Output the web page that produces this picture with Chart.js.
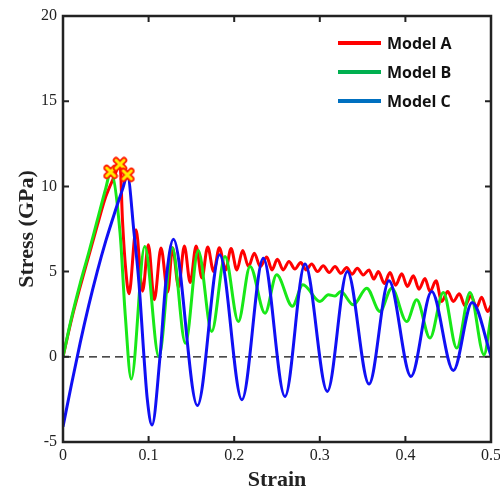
<!DOCTYPE html>
<html>
<head>
<meta charset="utf-8">
<script src="https://cdn.jsdelivr.net/npm/chart.js@4.4.1/dist/chart.umd.min.js"></script>
<style>
  html, body { margin: 0; padding: 0; background: #fff; }
  canvas { display: block; }
</style>
</head>
<body>
<canvas id="stressChart" width="500" height="492"></canvas>
<script>
const seriesNames = ['Model A', 'Model B', 'Model C'];

// Model A
const strainA = [0, 0.01, 0.02, 0.03, 0.04, 0.05, 0.06, 0.0666, 0.0695, 0.0735, 0.0771, 0.0853, 0.093, 0.0997,
  0.1067, 0.1145, 0.1223, 0.128, 0.135, 0.1418, 0.1486, 0.1555, 0.1623, 0.169, 0.176, 0.1826, 0.19, 0.1963,
  0.2031, 0.2099, 0.2167, 0.2235, 0.2304, 0.238, 0.2442, 0.2504, 0.2572, 0.264, 0.2709, 0.2777, 0.2841, 0.2905,
  0.2973, 0.304, 0.311, 0.3178, 0.3246, 0.3314, 0.3376, 0.3438, 0.3507, 0.3575, 0.363, 0.3684, 0.3754, 0.382,
  0.3886, 0.3957, 0.4023, 0.4093, 0.4159, 0.4229, 0.4287, 0.4358, 0.4424, 0.4494, 0.456, 0.463, 0.4696, 0.4766,
  0.4832, 0.489, 0.4961, 0.5];
const stressA = [0, 2.2, 4.1, 5.9, 7.7, 9.4, 10.6, 11.3, 8.0, 5.0, 3.7, 7.45, 3.85, 6.57,
  3.35, 6.38, 3.8, 6.4, 4.1, 6.5, 4.36, 6.5, 4.62, 6.45, 5.0, 6.4, 5.1, 6.35,
  5.1, 6.24, 5.3, 6.08, 5.3, 5.85, 5.1, 5.73, 5.1, 5.6, 5.15, 5.53, 5.1, 5.44,
  5.0, 5.34, 4.95, 5.3, 4.9, 5.24, 4.85, 5.2, 4.8, 5.1, 4.56, 5.0, 4.3, 4.95,
  4.2, 4.87, 4.13, 4.75, 3.97, 4.6, 3.83, 4.46, 3.25, 3.83, 3.25, 3.7, 3.0, 3.58,
  2.9, 3.5, 2.66, 3.0];

// Model B
const strainB = [0, 0.01, 0.02, 0.03, 0.04, 0.05, 0.0556, 0.0666, 0.0728, 0.0797, 0.0955, 0.112, 0.1276, 0.143,
  0.158, 0.1737, 0.1893, 0.2048, 0.2185, 0.236, 0.2496, 0.268, 0.2802, 0.3002, 0.31, 0.3178, 0.3244, 0.3392,
  0.3548, 0.3703, 0.384, 0.4015, 0.4132, 0.4287, 0.4443, 0.46, 0.4755, 0.4918, 0.5];
const stressB = [0, 2.3, 4.3, 6.1, 8.0, 9.9, 10.85, 7.3, 2.4, -1.31, 6.47, 0.0, 6.4, 0.8,
  6.24, 1.49, 5.89, 2.07, 5.3, 2.56, 4.81, 2.97, 4.23, 3.25, 3.64, 3.57, 3.83, 3.05,
  4.03, 2.66, 4.03, 2.07, 3.35, 1.1, 3.78, 0.51, 3.78, 0.12, 2.37];

// Model C
const strainC = [0, 0.01, 0.02, 0.03, 0.04, 0.05, 0.06, 0.07, 0.0752, 0.083, 0.0888, 0.0946, 0.0985, 0.104,
  0.1133, 0.12, 0.129, 0.157, 0.183, 0.209, 0.234, 0.2593, 0.2827, 0.3088, 0.3322, 0.3575, 0.3808, 0.4065,
  0.4307, 0.456, 0.478, 0.5];
const stressC = [-4.1, -1.6, 0.8, 3.0, 5.0, 6.8, 8.4, 9.9, 10.68, 7.26, 4.3, 0, -2.5, -4.0,
  0, 4.3, 6.9, -2.86, 5.99, -2.52, 5.79, -2.33, 5.44, -2.03, 5.01, -1.6, 4.46, -1.15,
  3.83, -0.8, 3.19, 0.06];

// peak stress of each model
const peakStrain = [0.0556, 0.0666, 0.0752];
const peakStress = [10.85, 11.3, 10.68];

const zeroLineStrain = [0, 0.5];
const strainTicks = [0, 0.1, 0.2, 0.3, 0.4, 0.5];
const stressTicks = [-5, 0, 5, 10, 15, 20];

const lineColors = ['#ff0000', '#18e818', '#1010f4'];
const legendColors = ['#ff0000', '#00b050', '#0070c0'];

const toPoints = (xs, ys) => xs.map((v, i) => ({ x: v, y: ys[i] }));

// yellow cross with red rim for the peak markers
const peakMark = document.createElement('canvas');
peakMark.width = 16;
peakMark.height = 16;
(function () {
  const c = peakMark.getContext('2d');
  c.lineCap = 'round';
  c.beginPath();
  c.moveTo(4, 4); c.lineTo(12, 12);
  c.moveTo(12, 4); c.lineTo(4, 12);
  c.strokeStyle = '#ff1a00';
  c.lineWidth = 6.5;
  c.stroke();
  c.strokeStyle = '#ffee00';
  c.lineWidth = 3;
  c.stroke();
})();

const curve = (i, xs, ys, order) => ({
  label: seriesNames[i],
  data: toPoints(xs, ys),
  borderColor: lineColors[i],
  backgroundColor: lineColors[i],
  borderWidth: 3,
  pointRadius: 0,
  cubicInterpolationMode: 'monotone',
  order: order
});

const framePlugin = {
  id: 'frame',
  afterDraw(chart) {
    const { ctx, chartArea: a, scales: { x, y } } = chart;
    ctx.save();
    ctx.strokeStyle = '#222';
    ctx.lineWidth = 2.5;
    ctx.strokeRect(a.left, a.top, a.right - a.left, a.bottom - a.top);
    ctx.lineWidth = 2;
    ctx.beginPath();
    strainTicks.forEach(v => {
      const px = x.getPixelForValue(v);
      ctx.moveTo(px, a.bottom); ctx.lineTo(px, a.bottom - 6);
      ctx.moveTo(px, a.top); ctx.lineTo(px, a.top + 6);
    });
    stressTicks.forEach(v => {
      const py = y.getPixelForValue(v);
      ctx.moveTo(a.left, py); ctx.lineTo(a.left + 6, py);
      ctx.moveTo(a.right, py); ctx.lineTo(a.right - 6, py);
    });
    ctx.stroke();

    // legend, top right inside the plot
    ctx.font = 'bold 16px "Open Sans"';
    ctx.textBaseline = 'middle';
    ctx.textAlign = 'left';
    seriesNames.forEach((name, i) => {
      const ly = a.top + 27 + i * 29;
      const lx = a.right - 153;
      ctx.strokeStyle = legendColors[i];
      ctx.lineWidth = 4;
      ctx.beginPath();
      ctx.moveTo(lx, ly); ctx.lineTo(lx + 43, ly);
      ctx.stroke();
      ctx.fillStyle = '#111';
      ctx.fillText(name, lx + 49, ly + 1);
    });
    ctx.restore();
  }
};

const config = {
  type: 'line',
  data: {
    datasets: [
      curve(0, strainA, stressA, 3),
      curve(1, strainB, stressB, 2),
      curve(2, strainC, stressC, 1),
      {
        label: 'peak',
        data: toPoints(peakStrain, peakStress),
        showLine: false,
        pointStyle: peakMark,
        pointRadius: 8,
        order: 0
      },
      {
        label: 'zero',
        data: toPoints(zeroLineStrain, [0, 0]),
        borderColor: '#111',
        borderWidth: 1.3,
        borderDash: [8, 5],
        pointRadius: 0,
        order: 4
      }
    ]
  },
  options: {
    responsive: false,
    animation: false,
    layout: { padding: { top: 16, right: 9, left: 0, bottom: 0 } },
    scales: {
      x: {
        type: 'linear',
        min: 0,
        max: 0.5,
        afterFit: s => { s.height = 50; s.paddingLeft = 0; s.paddingRight = 0; },
        afterBuildTicks: s => { s.ticks = strainTicks.map(v => ({ value: v })); },
        grid: { display: false, drawTicks: false },
        border: { display: false },
        ticks: {
          color: '#222',
          padding: 4,
          font: { family: '"Liberation Serif"', size: 16 }
        },
        title: {
          display: true,
          text: 'Strain',
          color: '#222',
          padding: { top: 0, bottom: 1 },
          font: { family: '"Liberation Serif"', size: 22, weight: 'bold', lineHeight: 1 }
        }
      },
      y: {
        type: 'linear',
        min: -5,
        max: 20,
        afterFit: s => { s.width = 63; s.paddingTop = 0; s.paddingBottom = 0; },
        afterBuildTicks: s => { s.ticks = stressTicks.map(v => ({ value: v })); },
        grid: { display: false, drawTicks: false },
        border: { display: false },
        ticks: {
          color: '#222',
          padding: 6,
          font: { family: '"Liberation Serif"', size: 16 }
        },
        title: {
          display: true,
          text: 'Stress (GPa)',
          color: '#222',
          padding: { top: 16, bottom: 0 },
          font: { family: '"Liberation Serif"', size: 22, weight: 'bold', lineHeight: 1 }
        }
      }
    },
    plugins: {
      legend: { display: false },
      tooltip: { enabled: false }
    }
  },
  plugins: [framePlugin]
};

new Chart(document.getElementById('stressChart'), config);
</script>
</body>
</html>
